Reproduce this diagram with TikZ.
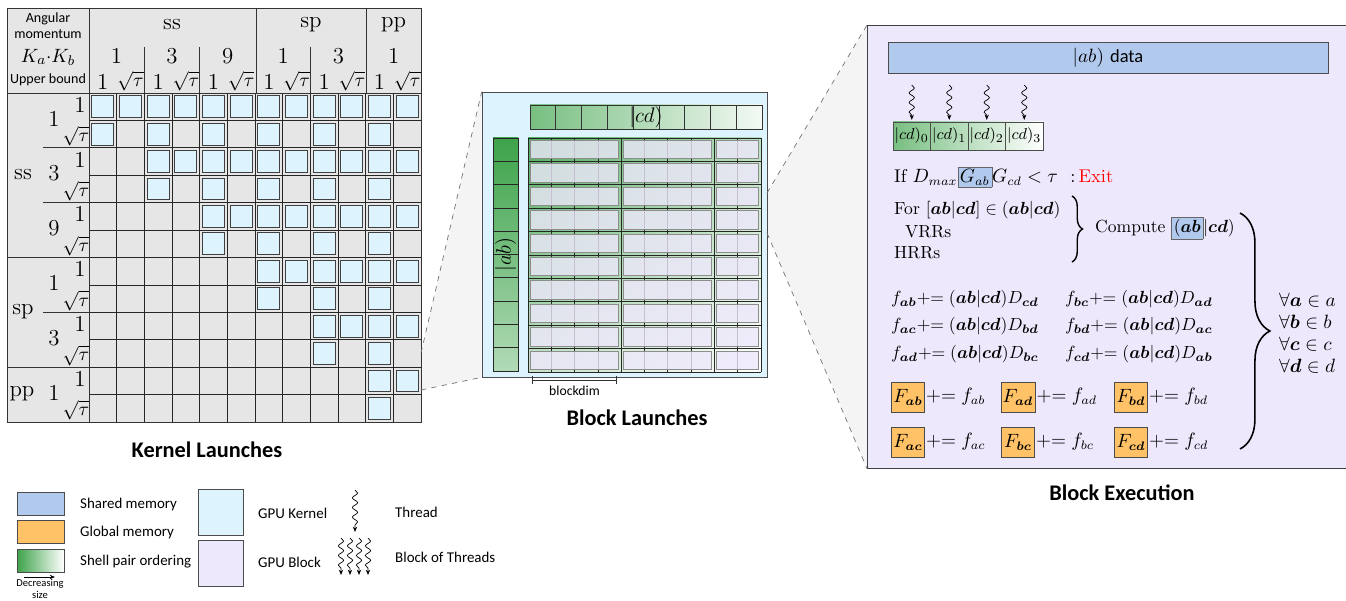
\documentclass[tikz,border=0pt]{standalone}
\usepackage{amsmath}
\usepackage{amssymb}
\usepackage{fontspec}
\setsansfont{Carlito}
\usetikzlibrary{positioning,decorations.pathreplacing,decorations.pathmorphing,arrows.meta,backgrounds,shadings}

\definecolor{tabgray}{HTML}{E6E6E6}
\definecolor{kernblue}{HTML}{DDF3FD}
\definecolor{blocklav}{HTML}{EEE8FC}
\definecolor{sharedblue}{HTML}{B1C9ED}
\definecolor{globalorange}{HTML}{FFC266}
\definecolor{pairgreen}{HTML}{3DA34A}
\definecolor{conegray}{HTML}{F4F4F4}

\newcommand{\bsy}[1]{\boldsymbol{#1}}
\newcommand{\pluseq}{{+}{=}\;}
\newcommand{\hlb}[1]{{\setlength{\fboxsep}{1pt}\fcolorbox{black!60}{sharedblue}{$#1$}}}
\newcommand{\kcellat}[2]{%
  \pgfmathsetmacro\cx{89+27.67*(#2-1)}%
  \pgfmathsetmacro\cy{93+27.42*(#1-1)}%
  \draw[kcell] (\cx+2.8,\cy+2.8) rectangle ++(22,21.8);}

\tikzset{
  bigtitle/.style={font=\sffamily\bfseries\fontsize{12.7}{14}\selectfont},
  tabtxt/.style={font=\sffamily\fontsize{8}{9}\selectfont, align=center, inner sep=0pt},
  rmbig/.style={font=\fontsize{13}{15}\selectfont, inner sep=0pt},
  rmsub/.style={font=\fontsize{11}{13}\selectfont, inner sep=0pt},
  rmmid/.style={font=\fontsize{10.5}{12}\selectfont},
  rmeq/.style={font=\fontsize{9.6}{11}\selectfont, anchor=west},
  legtxt/.style={font=\sffamily\fontsize{8.5}{10}\selectfont, anchor=west},
  kcell/.style={draw=black!75, fill=kernblue, line width=0.5pt},
  memcell/.style={draw=black!70, inner sep=1pt},
  blk/.style={draw=black!45, fill=blocklav, fill opacity=0.8, line width=0.6pt},
  coneline/.style={draw=black!55, dashed},
  thread/.style={decorate, decoration={snake, amplitude=1.5pt, segment length=5.5pt, post length=2.5pt}, -{Stealth[length=3pt, width=2.4pt]}}
}

\begin{document}
\begin{tikzpicture}[x=0.02cm, y=-0.02cm]
\useasboundingbox (0,0) rectangle (1346,601);

\fill[tabgray] (7,8) rectangle (421,422);
\foreach \k in {1,...,6}{
  \pgfmathtruncatemacro\ra{2*\k-1}
  \pgfmathtruncatemacro\rb{2*\k}
  \foreach \c in {\ra,...,12}{\kcellat{\ra}{\c}}
  \foreach \c in {\ra,...,11}{\ifodd\c\relax\kcellat{\rb}{\c}\fi}
}
\foreach \k in {0,...,12}{
  \draw[black!85] (89,93+27.42*\k) -- (421,93+27.42*\k);
  \draw[black!85] (89+27.67*\k,93) -- (89+27.67*\k,422);
}
\draw[black!80] (7,8) rectangle (421,422);
\draw[black!80] (89,8) -- (89,422);
\draw[black!80] (7,93) -- (421,93);
\foreach \x in {256,366} \draw[black!80] (\x,8) -- (\x,93);
\foreach \x in {144.3,199.7,310.7} \draw[black!80] (\x,47) -- (\x,93);
\foreach \y in {257.5,367.2} \draw[black!80] (7,\y) -- (89,\y);
\foreach \y in {147.8,202.7,312.4} \draw[black!80] (43,\y) -- (89,\y);

\node[tabtxt] (amlab) at (48,26) {Angular\\momentum};
\node[rmsub] (kklab) at (48,57) {$K_a{\cdot}K_b$};
\node[tabtxt] (ublab) at (48,80) {Upper bound};
\node[rmbig] (hss) at (172,25) {ss};
\node[rmbig] (hsp) at (311,25) {sp};
\node[rmbig] (hpp) at (393.5,25) {pp};
\foreach \x/\n [count=\i] in {116.5/1,172/3,227.7/9,283.3/1,338.5/3,393.7/1}
  \node[rmbig] (hk\i) at (\x,56) {\n};
\foreach \i in {1,...,6}{
  \node[rmbig] (hbo\i) at ({89+27.67*(2*\i-1.5)},82) {1};
  \node[rmsub] (hbs\i) at ({89+27.67*(2*\i-0.5)},81) {$\sqrt{\tau}$};
}
\node[rmbig] (vss) at (23,175) {ss};
\node[rmbig] (vsp) at (23,312) {sp};
\node[rmbig] (vpp) at (22,394) {pp};
\foreach \n [count=\k] in {1,3,9,1,3,1}{
  \node[rmbig] (vk\k) at (54,{93+27.42*(2*\k-1)-2}) {\n};
  \node[rmbig] (vbo\k) at (80,{93+27.42*(2*\k-1.5)-2}) {1};
  \node[rmsub] (vbs\k) at (76,{93+27.42*(2*\k-0.5)+2}) {$\sqrt{\tau}$};
}
\node[bigtitle] (kltitle) at (207,450) {Kernel Launches};

\node[draw=black!70, fill=kernblue, minimum width=5.7cm, minimum height=5.7cm, inner sep=0pt] (kbox) at (624.5,234.5) {};
\shade[left color=pairgreen!70, right color=pairgreen!6] (530,105) rectangle (762,129);
\foreach \i in {0,...,8} \draw[black!80] (530+25.78*\i,105) rectangle ++(25.78,24);
\node[font=\fontsize{11.5}{13}\selectfont] (cdlab) at (646,117) {$|cd)$};
\shade[top color=pairgreen, bottom color=pairgreen!40] (493,138) rectangle (518,371);
\foreach \i in {0,...,9} \draw[black!85] (493,138+23.3*\i) rectangle ++(25,23.3);
\node[font=\fontsize{11.5}{13}\selectfont, rotate=90] (ablab) at (505.5,254.5) {$|ab)$};
\shade[upper left=pairgreen!90, upper right=pairgreen!35, lower left=pairgreen!30, lower right=white] (528,138) rectangle (761,372);
\foreach \i in {0,...,10}{
  \draw[black!85] (528+23.3*\i,138) -- ++(0,234);
  \draw[black!85] (528,138+23.4*\i) -- ++(233,0);
}
\foreach \r in {0,...,9}
  \foreach \a/\b in {0/4,4/8,8/10}
    \draw[blk] (528+23.3*\a+2.5,138+23.4*\r+2.5) rectangle (528+23.3*\b-2.5,138+23.4*\r+20.9);
\coordinate (bdA) at (532,380);
\coordinate (bdB) at (617,380);
\draw[|-|, black!80] (bdA) -- (bdB);
\node[font=\sffamily\fontsize{7.8}{9}\selectfont] (bdlab) at (574.5,391) {blockdim};
\node[bigtitle] (bltitle) at (637,418) {Block Launches};

\node[draw=black!75, fill=blocklav, minimum width=9.7cm, minimum height=8.86cm, anchor=north west, inner sep=0pt] (panel) at (867,25) {};
\coordinate (ltA) at (421,353);
\coordinate (ltB) at (421,390);
\coordinate (rtA) at (767,193);
\coordinate (rtB) at (767,233);
\begin{pgfonlayer}{background}
\fill[conegray] (ltA) -- (kbox.north west) -- (kbox.south west) -- (ltB) -- cycle;
\fill[conegray] (rtA) -- (panel.north west) -- (panel.south west) -- (rtB) -- cycle;
\end{pgfonlayer}
\draw[coneline] (ltA) -- (kbox.north west);
\draw[coneline] (ltB) -- (kbox.south west);
\draw[coneline] (rtA) -- (panel.north west);
\draw[coneline] (rtB) -- (panel.south west);

\node[memcell, fill=sharedblue, minimum width=8.8cm, minimum height=0.62cm, rmmid] (abdata) at (1108,57.5) {$|ab)$ {\sffamily data}};
\shade[left color=pairgreen!70, right color=white] (893,122) rectangle (1043,150);
\foreach \i in {0,...,3}{
  \node[draw=black!70, minimum width=0.75cm, minimum height=0.56cm, inner sep=0pt, font=\fontsize{9.5}{11}\selectfont] (cd\i) at (911.75+37.5*\i,136) {$|cd)_\i$};
  \coordinate (th\i) at (911.75+37.5*\i,85);
  \draw[thread, shorten >=1pt] (th\i) -- (cd\i.north);
}
\node[anchor=west, rmmid] (ifl) at (888,177) {If $D_{max}\hlb{G_{ab}}G_{cd} < \tau$\ \ :\,\textcolor{red}{Exit}};
\node[anchor=west, font=\fontsize{10}{12}\selectfont] (forl) at (888,210) {For $[\bsy{ab}|\bsy{cd}] \in (\bsy{ab}|\bsy{cd})$};
\node[anchor=west, font=\fontsize{10}{12}\selectfont] (vrrl) at (899,232) {VRRs};
\node[anchor=west, font=\fontsize{10}{12}\selectfont] (hrrl) at (888,253) {HRRs};
\draw[decorate, decoration={brace, amplitude=6pt}, thick] (1072,196) -- (1072,262);
\node[anchor=west, font=\fontsize{10}{12}\selectfont] (comp) at (1089,228) {Compute $\hlb{(\bsy{ab}}|\bsy{cd})$};
\foreach \fa/\da/\fb/\db/\y in {ab/cd/bc/ad/299, ac/bd/bd/ac/326, ad/bc/cd/ab/354}{
  \node[rmeq] (fL\fa) at (885,\y) {$f_{\bsy{\fa}}\pluseq(\bsy{ab}|\bsy{cd})D_{\bsy{\da}}$};
  \node[rmeq] (fR\fb) at (1059,\y) {$f_{\bsy{\fb}}\pluseq(\bsy{ab}|\bsy{cd})D_{\bsy{\db}}$};
}
\foreach \fa/\fb/\fc/\y in {ab/ad/bd/397, ac/bc/cd/442}{
  \node[memcell, fill=globalorange, minimum width=0.66cm, minimum height=0.6cm, rmmid] (F\fa) at (908,\y) {$F_{\bsy{\fa}}$};
  \node[right=0pt of F\fa, rmmid, inner sep=0.5pt] (g\fa) {$\pluseq f_{\fa}$};
  \node[memcell, fill=globalorange, minimum width=0.66cm, minimum height=0.6cm, rmmid] (F\fb) at (1018,\y) {$F_{\bsy{\fb}}$};
  \node[right=0pt of F\fb, rmmid, inner sep=0.5pt] (g\fb) {$\pluseq f_{\fb}$};
  \node[memcell, fill=globalorange, minimum width=0.66cm, minimum height=0.6cm, rmmid] (F\fc) at (1131,\y) {$F_{\bsy{\fc}}$};
  \node[right=0pt of F\fc, rmmid, inner sep=0.5pt] (g\fc) {$\pluseq f_{\fc}$};
}
\draw[decorate, decoration={brace, amplitude=17pt}, line width=0.9pt] (1240,213) -- (1240,449);
\foreach \v [count=\i] in {a,b,c,d}
  \node[anchor=west, rmmid] (all\v) at (1273,278+22*\i) {$\forall\bsy{\v}\in \v$};
\node[bigtitle] (betitle) at (1122,493) {Block Execution};

\node[memcell, fill=sharedblue, minimum width=0.94cm, minimum height=0.46cm] (lgshared) at (40.5,503.5) {};
\node[memcell, fill=globalorange, minimum width=0.94cm, minimum height=0.46cm] (lgglobal) at (40.5,532) {};
\node[memcell, left color=pairgreen, right color=white, minimum width=0.94cm, minimum height=0.46cm] (lgpair) at (40.5,560.5) {};
\node[legtxt] (lgsharedtxt) at (74,505) {Shared memory};
\node[legtxt] (lgglobaltxt) at (74,533) {Global memory};
\node[legtxt] (lgpairtxt) at (74,562) {Shell pair ordering};
\coordinate (decA) at (24,577);
\coordinate (decB) at (55,577);
\draw[-{Stealth[length=3pt, width=2.4pt]}] (decA) -- (decB);
\node[font=\sffamily\fontsize{6}{6.5}\selectfont, align=center, inner sep=0pt] (declab) at (40,589) {Decreasing\\size};
\node[draw=black!70, fill=kernblue, minimum width=0.9cm, minimum height=0.92cm] (lgkern) at (220.5,512) {};
\node[draw=black!70, fill=blocklav, minimum width=0.9cm, minimum height=0.92cm] (lgblock) at (220.5,563) {};
\node[legtxt] (lgkerntxt) at (252,513) {GPU Kernel};
\node[legtxt] (lgblocktxt) at (252,562) {GPU Block};
\coordinate (lgthA) at (355,490);
\coordinate (lgthB) at (355,532);
\draw[thread] (lgthA) -- (lgthB);
\node[legtxt] (lgthtxt) at (389,512) {Thread};
\foreach \x [count=\i] in {341,350,359,368}{
  \coordinate (lgbt\i) at (\x,538);
  \draw[thread] (lgbt\i) -- ++(0,37);
}
\node[legtxt] (lgbttxt) at (389,557) {Block of Threads};
\end{tikzpicture}
\end{document}
